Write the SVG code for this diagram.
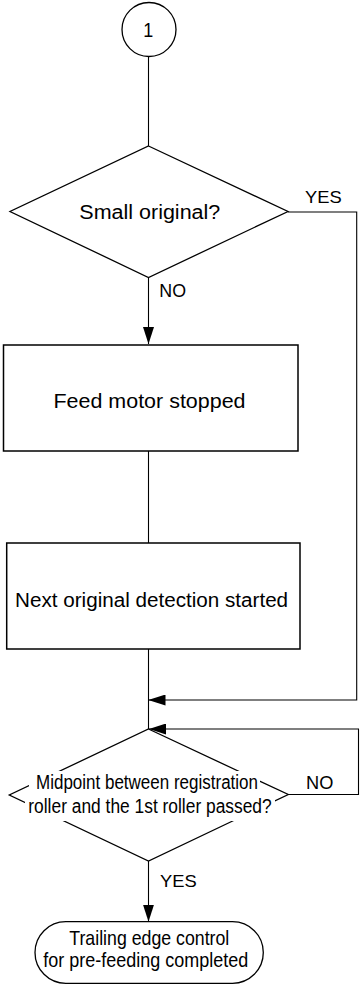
<svg xmlns="http://www.w3.org/2000/svg" width="360" height="985" viewBox="0 0 360 985">
<style>
.s{fill:none;stroke:#000;stroke-width:1.3}
.n{fill:#fff;stroke:#000;stroke-width:1.5}
.c{fill:none;stroke:#000;stroke-width:1.1}
.t{font-family:"Liberation Sans",Arial,sans-serif;fill:#000}
</style>
<defs>
<marker id="ah" markerUnits="userSpaceOnUse" markerWidth="17" markerHeight="11" refX="17" refY="5.5" orient="auto">
<path d="M0,0 L17,5.5 L0,11 z" fill="#000"/>
</marker>
</defs>
<g id="connectors">
<line class="c" x1="148.5" y1="57" x2="148.5" y2="146"/>
<line class="c" x1="148.5" y1="277.5" x2="148.5" y2="344" marker-end="url(#ah)"/>
<polyline class="c" points="288,212 356.7,212 356.7,700 148.5,700" marker-end="url(#ah)"/>
<line class="c" x1="148.5" y1="451" x2="148.5" y2="543"/>
<line class="c" x1="148.5" y1="649" x2="148.5" y2="729"/>
<polyline class="c" points="288.3,794.5 358.5,794.5 358.5,729 149,729" marker-end="url(#ah)"/>
<line class="c" x1="148.5" y1="861" x2="148.5" y2="921.7" marker-end="url(#ah)"/>
<text class="t" x="305" y="203.3" font-size="17" textLength="36.7" lengthAdjust="spacingAndGlyphs">YES</text>
<text class="t" x="159.3" y="296.7" font-size="17.5" textLength="26.7" lengthAdjust="spacingAndGlyphs">NO</text>
<text class="t" x="306" y="789.3" font-size="17.5" textLength="27.3" lengthAdjust="spacingAndGlyphs">NO</text>
<text class="t" x="160" y="886.7" font-size="17" textLength="36.7" lengthAdjust="spacingAndGlyphs">YES</text>
</g>
<g id="start">
<circle class="s" cx="149" cy="29.5" r="27"/>
<text class="t" x="143.3" y="37.3" font-size="19.5" textLength="10" lengthAdjust="spacingAndGlyphs">1</text>
</g>
<g id="small-original">
<polygon class="s" fill="none" points="148.5,146 288,211.5 148.5,277.5 10,211.5"/>
<text class="t" x="79.3" y="218.5" font-size="20" textLength="141" lengthAdjust="spacingAndGlyphs">Small original?</text>
</g>
<g id="feed-motor-stopped">
<rect class="n" x="3.5" y="345" width="294.5" height="106"/>
<text class="t" x="53.5" y="407.5" font-size="20" textLength="192" lengthAdjust="spacingAndGlyphs">Feed motor stopped</text>
</g>
<g id="next-original-detection">
<rect class="n" x="6.7" y="543" width="293.3" height="106"/>
<text class="t" x="15.1" y="606.5" font-size="20" textLength="273" lengthAdjust="spacingAndGlyphs">Next original detection started</text>
</g>
<g id="midpoint-passed">
<polygon class="s" fill="none" points="148.5,729 288.3,794.5 148.5,861 9.3,795"/>
<rect x="29" y="771" width="231" height="22" fill="#fff"/>
<rect x="25" y="795.5" width="250" height="25.5" fill="#fff"/>
<text class="t" x="36" y="789.3" font-size="19.5" textLength="222" lengthAdjust="spacingAndGlyphs">Midpoint between registration</text>
<text class="t" x="28.3" y="813.3" font-size="19.5" textLength="243.4" lengthAdjust="spacingAndGlyphs">roller and the 1st roller passed?</text>
</g>
<g id="trailing-edge-completed">
<rect class="s" x="35" y="921.7" width="228.3" height="61.6" rx="30.8" ry="30.8"/>
<text class="t" x="69.3" y="945" font-size="21" textLength="160" lengthAdjust="spacingAndGlyphs">Trailing edge control</text>
<text class="t" x="43.3" y="966.7" font-size="21" textLength="205" lengthAdjust="spacingAndGlyphs">for pre-feeding completed</text>
</g>
</svg>
